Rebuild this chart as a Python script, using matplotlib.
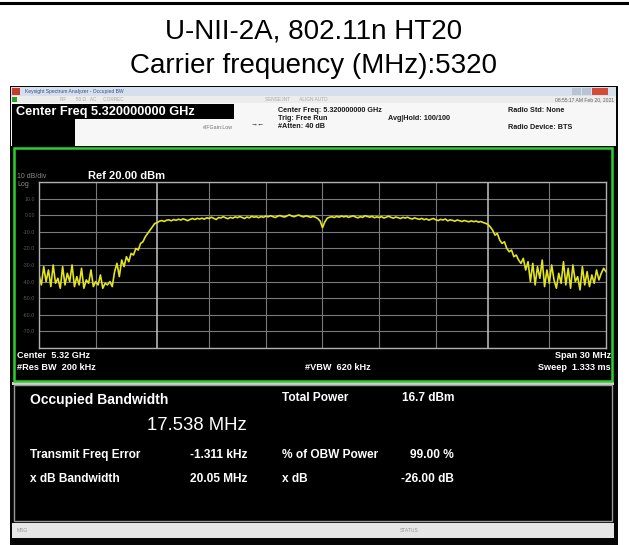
import numpy as np
import matplotlib
matplotlib.use("Agg")
import matplotlib.pyplot as plt
from matplotlib.patches import Rectangle

plt.rcParams['font.family'] = ['Liberation Sans', 'DejaVu Sans']

# chart title (table cell header)
title_lines = ["U-NII-2A, 802.11n HT20", "Carrier frequency (MHz):5320"]

# analyzer settings
center_mhz = 5320
span_mhz = 30
ref_dbm = 20
db_per_div = 10
ytick_labels = ["", "10.0", "0.00", "-10.0", "-20.0", "-30.0", "-40.0", "-50.0", "-60.0", "-70.0", ""]
obw_mhz = 17.538

# trace, dBm, 241 sweep points over the span
left_noise = [-36, -42, -31, -40, -33, -43, -30, -41, -38, -44, -31, -42, -35, -40, -30, -43,
              -37, -42, -32, -44, -39, -41, -33, -43, -40, -42, -36, -44, -41, -42, -40, -43, -34]
left_skirt = [-29, -37, -27, -31, -25, -28, -23, -24, -20, -21, -17, -16, -13, -11, -9, -7, -5]
top_a = [-4.5, -3.6, -3.2, -3.8, -3.0, -2.8, -3.4, -2.6, -3.1, -2.4, -2.9, -2.2, -2.7, -3.3,
         -2.5, -2.0, -2.6, -1.9, -2.3]
top_b = [-1.8, -2.4, -1.5, -2.0, -1.2, -1.9, -2.6, -1.4, -1.7, -0.9, -1.6, -2.1, -1.3, -1.8,
         -1.0, -1.5, -0.8, -1.4, -2.0, -1.1, -1.6, -0.7, -1.2, -0.9, -1.5]
top_c = [-0.8, -1.3, -0.5, -1.0, -0.3, -0.9, -1.4, -0.6, -0.2, -0.8, -1.1, -0.4, 0.2, -0.5,
         -0.9, -0.3, 0.1, -0.6, -1.0, -0.4, -0.8, -1.3, -0.7, -1.2, -2.0]
top_dip = [-3.5, -7.5, -4.0, -1.8, -1.2]
top_d = [-0.9, -1.4, -0.7, -1.2, -0.5, -1.0, -0.6, -1.3, -0.8, -0.4, -1.1, -1.6, -0.9, -1.3,
         -0.3, -0.8, -1.2, -0.7, -1.5, -1.0, -1.4, -0.9, -1.7, -1.2, -0.6, -1.3, -1.8, -1.1,
         -1.5, -2.0, -1.3, -1.7, -1.2, -1.9, -2.3, -1.6, -2.1]
top_e = [-2.5, -1.9, -2.7, -2.2, -3.0, -2.4, -2.0, -2.8, -3.2, -2.5, -2.9, -2.3, -3.4, -2.8,
         -3.1, -3.6, -2.9, -3.3, -3.8, -3.2, -3.6, -4.0, -3.4, -3.9, -3.5, -4.2, -3.8, -4.4,
         -4.9, -5.5]
right_skirt = [-7, -9, -12, -11, -15, -17, -16, -20, -22, -21, -25, -24, -27, -29, -26, -33, -28]
right_noise = [-40, -29, -42, -31, -38, -27, -43, -33, -41, -30, -39, -44, -35, -41, -28, -42,
               -32, -44, -30, -40, -37, -45, -31, -42, -34, -43, -36, -41, -33, -39, -35, -32, -34]

trace_dbm = np.array(left_noise + left_skirt + top_a + top_b + top_c + top_dip + top_d
                     + top_e + right_skirt + right_noise)
freq_mhz = np.linspace(center_mhz - span_mhz / 2, center_mhz + span_mhz / 2, len(trace_dbm))

# measurement results
results_left = [("Transmit Freq Error", "-1.311 kHz"), ("x dB Bandwidth", "20.05 MHz")]
results_right = [("Total Power", "16.7 dBm"), ("% of OBW Power", "99.00 %"), ("x dB", "-26.00 dB")]

W, H = 629, 545
fig = plt.figure(figsize=(W / 100, H / 100), dpi=100)
fig.patch.set_facecolor("white")


def fx(x):
    return x / W


def fy(y):
    return 1 - y / H


def rect(x0, y0, x1, y1, fc, ec="none", lw=0, z=-5):
    fig.patches.append(Rectangle((fx(x0), fy(y1)), (x1 - x0) / W, (y1 - y0) / H,
                                 transform=fig.transFigure, facecolor=fc, edgecolor=ec,
                                 linewidth=lw, zorder=z))


def txt(x, y, s, **kw):
    kw.setdefault("va", "center")
    fig.text(fx(x), fy(y), s, **kw)


# table top border and title
fig.add_artist(plt.Line2D([0, 1], [fy(2.5), fy(2.5)], color="black", lw=2.2,
                          transform=fig.transFigure))
txt(314, 31, title_lines[0], ha="center", fontsize=20)
txt(314, 66, title_lines[1], ha="center", fontsize=20)

# screenshot frame
rect(10, 86, 618, 545, "#060606", z=-10)
# window title bar
rect(11, 87, 616, 96, "#d6e0ec")
rect(12, 88, 20, 95, "#c83a30", z=-4)
txt(25, 91.5, "Keysight Spectrum Analyzer - Occupied BW", fontsize=3.6, color="#3a4a8a")
rect(572, 88, 581, 95, "#b9c4d2", z=-4)
rect(582, 88, 591, 95, "#b9c4d2", z=-4)
rect(592, 88, 608, 95, "#d24a38", z=-4)
# toolbar row
rect(11, 96, 616, 103, "#ececec")
rect(12, 97, 17, 102, "#2aa02a", z=-4)
txt(60, 99.5, "RF       50 \u03a9   AC     CORREC", fontsize=3.4, color="#a8a8a8")
txt(265, 99.5, "SENSE:INT       ALIGN AUTO", fontsize=3.4, color="#a8a8a8")
txt(614, 99.5, "08:55:17 AM Feb 20, 2021", fontsize=3.6, color="#606060", ha="right")
# info area
rect(11, 103, 616, 146, "#f7f7f7")
rect(12, 104, 234, 119, "#000000", z=-4)
rect(12, 119, 75, 146, "#000000", z=-4)
txt(16, 111.5, "Center Freq 5.320000000 GHz", fontsize=9.2, color="white", weight="bold")
txt(233, 127, "#IFGain:Low", fontsize=3.8, color="#707070", ha="right")
txt(258, 124, "\u2192\u2190", fontsize=5, color="#202020", ha="center")
info_kw = dict(fontsize=5.2, color="#1a1a1a", weight="bold")
txt(278, 110, "Center Freq: 5.320000000 GHz", **info_kw)
txt(278, 118, "Trig: Free Run", **info_kw)
txt(278, 126, "#Atten: 40 dB", **info_kw)
txt(388, 118, "Avg|Hold: 100/100", **info_kw)
txt(508, 110, "Radio Std: None", **info_kw)
txt(508, 127, "Radio Device: BTS", **info_kw)

# green trace window
rect(14, 148, 612, 381, "#000000", ec="#2ccf2c", lw=1.8, z=-4)
txt(17, 176, "10 dB/div", fontsize=5, color="#8a8a8a")
txt(17, 185, "Log", fontsize=5, color="#8a8a8a")
txt(88, 176, "Ref 20.00 dBm", fontsize=8, color="white", weight="bold")

f_lo = center_mhz - span_mhz / 2
f_hi = center_mhz + span_mhz / 2
obw_edges = [center_mhz - obw_mhz / 2, center_mhz + obw_mhz / 2]

ax = fig.add_axes([fx(39), fy(348), 567 / W, 166 / H])
ax.set_facecolor("black")
ax.set_xlim(f_lo, f_hi)
ax.set_ylim(ref_dbm - 10 * db_per_div, ref_dbm)
ax.set_xticks([])
ax.set_yticks(np.arange(ref_dbm - 10 * db_per_div, ref_dbm + 1, db_per_div))
ax.set_yticklabels(ytick_labels[::-1], fontsize=3.8, color="#5a5a5a")
ax.tick_params(length=0, pad=3)
ax.grid(True, axis="y", color="#7a7a7a", lw=0.8)
# vertical divisions; the OBW markers sit over the two divisions next to them
for f in np.linspace(f_lo, f_hi, 11)[1:-1]:
    if min(abs(f - e) for e in obw_edges) > 0.5:
        ax.axvline(f, color="#7a7a7a", lw=0.8)
for e in obw_edges:
    ax.axvline(e, color="#c4c4c4", lw=1.1)
for s in ax.spines.values():
    s.set_color("#b0b0b0")
    s.set_linewidth(1.0)
ax.plot(freq_mhz, trace_dbm, color="#e2e41e", lw=1.2)

bottom_kw = dict(fontsize=6.6, color="white", weight="bold")
txt(17, 356, "Center  5.32 GHz", **bottom_kw)
txt(17, 367, "#Res BW  200 kHz", **bottom_kw)
txt(305, 367, "#VBW  620 kHz", **bottom_kw)
txt(611, 356, "Span 30 MHz", ha="right", **bottom_kw)
txt(611, 367, "Sweep  1.333 ms", ha="right", **bottom_kw)

# measurement panel
rect(12, 382, 614, 385, "#d0d0d0")
rect(14, 385, 612, 521, "#000000", ec="#9a9a9a", lw=1.0, z=-4)
txt(30, 400, "Occupied Bandwidth", fontsize=10, color="white", weight="bold")
txt(247, 425, "%.3f MHz" % obw_mhz, fontsize=13.3, color="white", ha="right")
meas_kw = dict(fontsize=8.6, color="white", weight="bold")
for i, (name, val) in enumerate(results_left):
    txt(30, 455 + 24 * i, name, **meas_kw)
    txt(247, 455 + 24 * i, val, ha="right", **meas_kw)
row_y = [398, 455, 479]
for (name, val), yy in zip(results_right, row_y):
    txt(282, yy, name, **meas_kw)
    txt(454, yy, val, ha="right", **meas_kw)

# status bar
rect(12, 523, 614, 538, "#e6e6e6")
txt(17, 530.5, "MSG", fontsize=3.6, color="#9a9a9a")
txt(400, 530.5, "STATUS", fontsize=3.6, color="#9a9a9a")

fig.savefig("out.png", dpi=100, facecolor=fig.get_facecolor())
